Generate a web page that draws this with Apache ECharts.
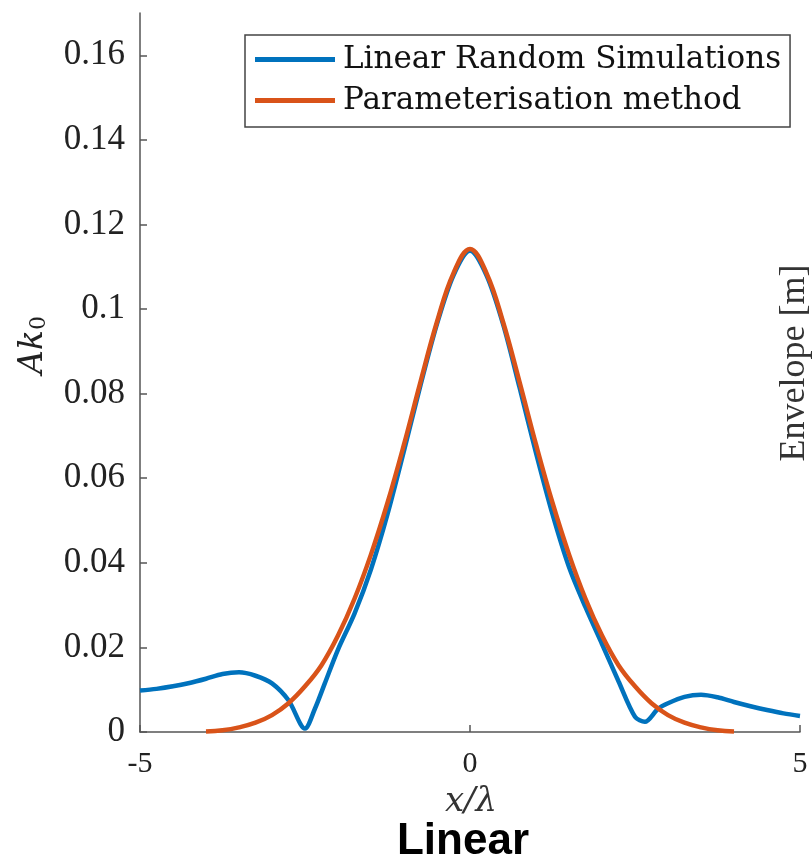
<!DOCTYPE html>
<html>
<head>
<meta charset="utf-8">
<script src="https://cdn.jsdelivr.net/npm/echarts@6/dist/echarts.min.js"></script>
<style>
  html, body { margin: 0; padding: 0; background: #fff; }
  #chart { width: 812px; height: 863px; }
</style>
</head>
<body>
<div id="chart"></div>
<script>
// ---- data ----
const seriesNames = ['Linear Random Simulations', 'Parameterisation method'];

const simX = [-5, -4.75, -4.5, -4.25, -4, -3.75, -3.5, -3.25, -3, -2.75, -2.5, -2.35, -2.2, -2, -1.75, -1.5, -1.25, -1, -0.75, -0.5, -0.25, 0,
              0.25, 0.5, 0.75, 1, 1.25, 1.5, 1.75, 2, 2.25, 2.5, 2.65, 2.85, 3, 3.25, 3.5, 3.75, 4, 4.25, 4.5, 4.75, 5];
const simY = [0.0098, 0.0102, 0.0108, 0.0116, 0.0126, 0.0137, 0.0141, 0.0133, 0.0115, 0.0075, 0.0008, 0.0055, 0.0115, 0.0195, 0.0280, 0.0385, 0.0515, 0.0665, 0.0820, 0.0965, 0.1080, 0.1138,
              0.1080, 0.0965, 0.0815, 0.0660, 0.0515, 0.0390, 0.0295, 0.0208, 0.0120, 0.0036, 0.0024, 0.0055, 0.0068, 0.0083, 0.0088, 0.0082, 0.0071, 0.0061, 0.0052, 0.0044, 0.0038];

const parX = [-4, -3.75, -3.5, -3.25, -3, -2.75, -2.5, -2.25, -2, -1.75, -1.5, -1.25, -1, -0.75, -0.5, -0.25, 0,
              0.25, 0.5, 0.75, 1, 1.25, 1.5, 1.75, 2, 2.25, 2.5, 2.75, 3, 3.25, 3.5, 3.75, 4];
const parY = [0.0001, 0.0004, 0.0011, 0.0022, 0.0040, 0.0068, 0.0108, 0.0158, 0.0228, 0.0315, 0.0420, 0.0542, 0.0680, 0.0828, 0.0970, 0.1085, 0.1142,
              0.1085, 0.0970, 0.0828, 0.0680, 0.0542, 0.0420, 0.0315, 0.0228, 0.0158, 0.0108, 0.0068, 0.0040, 0.0022, 0.0011, 0.0004, 0.0001];

const xTicks = [-5, 0, 5];
const yTicks = [0, 0.02, 0.04, 0.06, 0.08, 0.1, 0.12, 0.14, 0.16];

const xLabel = 'x/λ';
const yLabelMain = 'Ak';
const yLabelSub = '0';
const panelTitle = 'Linear';
const neighbourLabel = 'Envelope [m]';

// ---- chart ----
const pairs = (xs, ys) => xs.map((x, i) => [x, ys[i]]);
const serif = '"Liberation Serif", "DejaVu Serif", serif';
const wideSerif = '"DejaVu Serif", "Liberation Serif", serif';
const axisColor = '#555555';

const chart = echarts.init(document.getElementById('chart'), null, { renderer: 'canvas' });
chart.setOption({
  animation: false,
  backgroundColor: '#ffffff',
  grid: { left: 140, right: 12, top: 13, bottom: 131, containLabel: false },
  xAxis: {
    type: 'value', min: -5, max: 5, interval: 5,
    axisLine: { show: true, onZero: false, lineStyle: { color: axisColor, width: 1.5 } },
    axisTick: { show: true, inside: true, length: 7, customValues: xTicks, lineStyle: { color: axisColor, width: 1.5 } },
    axisLabel: { show: true, customValues: xTicks, fontFamily: serif, fontSize: 30, color: '#222', margin: 17 },
    splitLine: { show: false }
  },
  yAxis: {
    type: 'value', min: 0, max: 0.17,
    axisLine: { show: true, onZero: false, lineStyle: { color: axisColor, width: 1.5 } },
    axisTick: { show: true, inside: true, length: 7, customValues: yTicks, lineStyle: { color: axisColor, width: 1.5 } },
    axisLabel: { show: true, customValues: yTicks, fontFamily: serif, fontSize: 35, color: '#222', margin: 15 },
    splitLine: { show: false }
  },
  legend: {
    orient: 'vertical', left: 245, top: 35,
    data: seriesNames,
    icon: 'rect', itemWidth: 80, itemHeight: 5, itemGap: 10,
    padding: [9, 9, 11, 10],
    borderColor: '#444', borderWidth: 1.5, backgroundColor: '#fff',
    textStyle: { fontFamily: wideSerif, fontSize: 31, color: '#111', padding: [0, 0, 0, 3] }
  },
  series: [
    {
      name: seriesNames[0], type: 'line', data: pairs(simX, simY),
      showSymbol: false, symbol: 'none', smooth: 0.3,
      lineStyle: { color: '#0072BD', width: 4.5 }, itemStyle: { color: '#0072BD' }, z: 3
    },
    {
      name: seriesNames[1], type: 'line', data: pairs(parX, parY),
      showSymbol: false, symbol: 'none', smooth: 0.4,
      lineStyle: { color: '#D95319', width: 4.5 }, itemStyle: { color: '#D95319' }, z: 4
    }
  ],
  graphic: [
    {
      type: 'text', x: 33, y: 345, rotation: Math.PI / 2,
      style: {
        text: '{m|' + yLabelMain + '}{s|' + yLabelSub + '}',
        align: 'center', verticalAlign: 'middle',
        rich: {
          m: { fontFamily: wideSerif, fontStyle: 'italic', fontSize: 33, fill: '#222' },
          s: { fontFamily: wideSerif, fontSize: 22, fill: '#222', padding: [12, 0, 0, 0] }
        }
      }
    },
    {
      type: 'text', x: 471, y: 802,
      style: { text: xLabel, fontFamily: wideSerif, fontStyle: 'italic', fontSize: 34, fill: '#333', align: 'center', verticalAlign: 'middle' }
    },
    {
      type: 'text', x: 463, y: 842,
      style: { text: panelTitle, fontFamily: '"Liberation Sans", Arial, sans-serif', fontWeight: 'bold', fontSize: 44, fill: '#000', align: 'center', verticalAlign: 'middle' }
    },
    {
      type: 'text', x: 795, y: 363, rotation: Math.PI / 2,
      style: { text: neighbourLabel, fontFamily: serif, fontSize: 36, fill: '#333', align: 'center', verticalAlign: 'middle' }
    }
  ]
});
</script>
</body>
</html>
